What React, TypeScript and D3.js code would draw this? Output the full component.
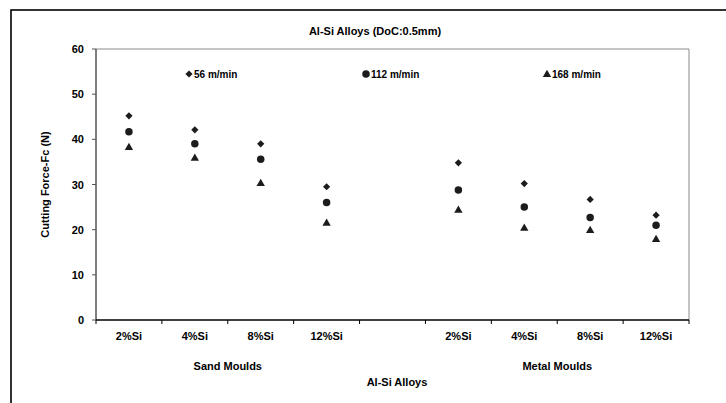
import React from "react";
import * as d3 from "d3";

const categories = ["2%Si", "4%Si", "8%Si", "12%Si", "", "2%Si", "4%Si", "8%Si", "12%Si"];
const groups = [
  { label: "Sand Moulds", from: 0, to: 3 },
  { label: "Metal Moulds", from: 5, to: 8 },
];
const speed56 = [45.2, 42.1, 39.0, 29.5, null, 34.8, 30.2, 26.7, 23.2];
const speed112 = [41.7, 39.0, 35.6, 26.0, null, 28.8, 25.0, 22.7, 21.0];
const speed168 = [38.3, 35.9, 30.3, 21.5, null, 24.4, 20.4, 19.9, 17.9];
const yTicks = [0, 10, 20, 30, 40, 50, 60];
const seriesNames = ["56 m/min", "112 m/min", "168 m/min"];

const W = 726;
const H = 403;
const plot = { left: 96, right: 689, top: 49, bottom: 320 };
const FONT = "'Liberation Sans', Arial, sans-serif";
const INK = "#1c1c1c";

const x = d3
  .scaleBand<number>()
  .domain(categories.map((_, i) => i))
  .range([plot.left, plot.right])
  .paddingInner(0)
  .paddingOuter(0);
const y = d3.scaleLinear().domain([0, 60]).range([plot.bottom, plot.top]);

const diamondPath = d3.symbol().type(d3.symbolSquare).size(26)() as string;
const circlePath = d3.symbol().type(d3.symbolCircle).size(44)() as string;
const trianglePath = d3.symbol().type(d3.symbolTriangle).size(30)() as string;

type Marker = "diamond" | "circle" | "triangle";
function MarkerShape({ kind, cx, cy }: { kind: Marker; cx: number; cy: number }) {
  if (kind === "diamond")
    return <path d={diamondPath} transform={`translate(${cx},${cy}) rotate(45)`} fill={INK} />;
  if (kind === "circle") return <path d={circlePath} transform={`translate(${cx},${cy})`} fill={INK} />;
  return <path d={trianglePath} transform={`translate(${cx},${cy + 0.5})`} fill={INK} />;
}

const series: { name: string; values: (number | null)[]; kind: Marker }[] = [
  { name: seriesNames[0], values: speed56, kind: "diamond" },
  { name: seriesNames[1], values: speed112, kind: "circle" },
  { name: seriesNames[2], values: speed168, kind: "triangle" },
];

const legendPos = [
  { x: 189, y: 74 },
  { x: 366, y: 74 },
  { x: 547, y: 74 },
];

export default function App() {
  const bw = x.bandwidth();
  const boundaries = categories.map((_, i) => x(i)!).concat([plot.right]);
  return (
    <svg
      width={W}
      height={H}
      style={{ position: "absolute", left: 0, top: 0, background: "#fff" }}
      fontFamily={FONT}
    >
      <rect x={0} y={0} width={W} height={H} fill="#fff" />
      {/* outer chart border */}
      <rect x={11} y={10} width={W + 20} height={H + 20} fill="none" stroke="#000" strokeWidth={1.6} />

      {/* title */}
      <text x={375} y={35} textAnchor="middle" fontSize={11} fontWeight="bold" fill="#000">
        Al-Si Alloys (DoC:0.5mm)
      </text>

      {/* plot area frame */}
      <line x1={plot.left} y1={plot.top} x2={plot.right} y2={plot.top} stroke="#8a8a8a" strokeWidth={1} />
      <line x1={plot.right} y1={plot.top} x2={plot.right} y2={plot.bottom} stroke="#8a8a8a" strokeWidth={1} />

      {/* y axis */}
      <line x1={plot.left} y1={plot.top} x2={plot.left} y2={plot.bottom} stroke="#555" strokeWidth={1.5} />
      {yTicks.map((t) => (
        <g key={t}>
          <line x1={plot.left - 4} x2={plot.left} y1={y(t)} y2={y(t)} stroke="#555" strokeWidth={1} />
          <text x={plot.left - 12} y={y(t) + 4} textAnchor="end" fontSize={11} fontWeight="bold" fill="#000">
            {t}
          </text>
        </g>
      ))}
      <text
        transform={`translate(49,${(plot.top + plot.bottom) / 2}) rotate(-90)`}
        textAnchor="middle"
        fontSize={11}
        fontWeight="bold"
        fill="#000"
      >
        Cutting Force-Fc (N)
      </text>

      {/* x axis */}
      <line x1={plot.left} y1={plot.bottom} x2={plot.right} y2={plot.bottom} stroke="#000" strokeWidth={1.5} />
      {boundaries.map((bx, i) => (
        <line key={i} x1={bx} x2={bx} y1={plot.bottom} y2={plot.bottom + 4} stroke="#000" strokeWidth={1} />
      ))}
      {categories.map((c, i) => (
        <text
          key={i}
          x={x(i)! + bw / 2}
          y={340}
          textAnchor="middle"
          fontSize={11}
          fontWeight="bold"
          fill="#000"
        >
          {c}
        </text>
      ))}
      {groups.map((g) => (
        <text
          key={g.label}
          x={(x(g.from)! + x(g.to)! + bw) / 2}
          y={370}
          textAnchor="middle"
          fontSize={11}
          fontWeight="bold"
          fill="#000"
        >
          {g.label}
        </text>
      ))}
      <text x={397} y={386} textAnchor="middle" fontSize={11} fontWeight="bold" fill="#000">
        Al-Si Alloys
      </text>

      {/* data points */}
      {series.map((s) =>
        s.values.map((v, i) =>
          v == null ? null : (
            <MarkerShape key={`${s.name}-${i}`} kind={s.kind} cx={x(i)! + bw / 2} cy={y(v)} />
          )
        )
      )}

      {/* legend */}
      {series.map((s, i) => (
        <g key={s.name}>
          <MarkerShape kind={s.kind} cx={legendPos[i].x} cy={legendPos[i].y} />
          <text x={legendPos[i].x + 5} y={legendPos[i].y + 3.5} fontSize={10} fontWeight="bold" fill="#000">
            {s.name}
          </text>
        </g>
      ))}
    </svg>
  );
}
